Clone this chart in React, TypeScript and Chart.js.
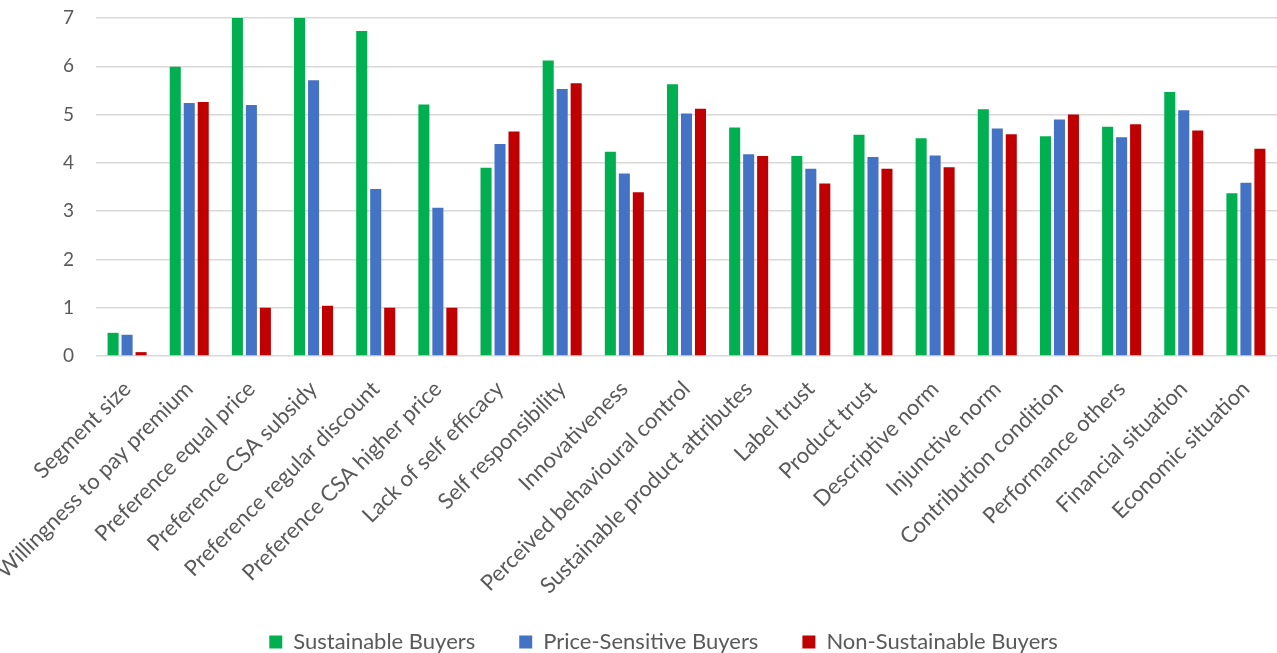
import React, { useEffect, useRef } from "react";
import { Chart, registerables } from "chart.js";

Chart.register(...registerables);

const categories = [
  "Segment size",
  "Willingness to pay premium",
  "Preference equal price",
  "Preference CSA subsidy",
  "Preference regular discount",
  "Preference CSA higher price",
  "Lack of self efficacy",
  "Self responsibility",
  "Innovativeness",
  "Perceived behavioural control",
  "Sustainable product attributes",
  "Label trust",
  "Product trust",
  "Descriptive norm",
  "Injunctive norm",
  "Contribution condition",
  "Performance others",
  "Financial situation",
  "Economic situation",
];

const sustainableBuyers = [
  0.48, 5.99, 7.0, 7.0, 6.73, 5.21, 3.9, 6.12, 4.23, 5.63, 4.73, 4.14, 4.58, 4.51, 5.11, 4.55, 4.75, 5.47, 3.37,
];
const priceSensitiveBuyers = [
  0.44, 5.24, 5.2, 5.71, 3.46, 3.07, 4.39, 5.53, 3.78, 5.02, 4.18, 3.88, 4.12, 4.15, 4.71, 4.9, 4.53, 5.09, 3.59,
];
const nonSustainableBuyers = [
  0.08, 5.26, 1.0, 1.04, 1.0, 1.0, 4.65, 5.65, 3.39, 5.12, 4.14, 3.57, 3.88, 3.91, 4.59, 5.0, 4.8, 4.67, 4.29,
];

const yTicks = [0, 1, 2, 3, 4, 5, 6, 7];

const FONT = "Lato, 'Open Sans', sans-serif";
const TEXT = "#595959";

// Lifts the bottom legend a little so it sits closer to the rotated axis labels.
const legendLift = {
  id: "legendLift",
  afterLayout(chart: any) {
    const lg = chart.legend;
    if (!lg) return;
    lg.top -= 13;
    lg.bottom -= 13;
  },
};

export default function App() {
  const canvasRef = useRef<HTMLCanvasElement | null>(null);

  useEffect(() => {
    if (!canvasRef.current) return;
    const common = { categoryPercentage: 0.675, barPercentage: 0.79, borderWidth: 0 };
    const chart = new Chart(canvasRef.current, {
      type: "bar",
      data: {
        labels: categories,
        datasets: [
          { label: "Sustainable Buyers", data: sustainableBuyers, backgroundColor: "#00B050", ...common },
          { label: "Price-Sensitive Buyers", data: priceSensitiveBuyers, backgroundColor: "#4472C4", ...common },
          { label: "Non-Sustainable Buyers", data: nonSustainableBuyers, backgroundColor: "#C00000", ...common },
        ],
      },
      plugins: [legendLift],
      options: {
        animation: false,
        responsive: true,
        maintainAspectRatio: false,
        layout: { padding: { top: 0, bottom: -23, left: 50, right: 0 } },
        plugins: {
          tooltip: { enabled: false },
          legend: {
            position: "bottom",
            labels: {
              boxWidth: 13,
              boxHeight: 13,
              padding: 44,
              color: TEXT,
              font: { family: FONT, size: 22 },
            },
          },
        },
        scales: {
          x: {
            grid: { display: false },
            border: { display: false },
            ticks: {
              autoSkip: false,
              minRotation: 45,
              maxRotation: 45,
              padding: 12,
              color: TEXT,
              font: { family: FONT, size: 22 },
            },
            afterFit: (scale: any) => {
              scale.height = 244;
            },
          },
          y: {
            min: 0,
            max: 7,
            afterBuildTicks: (scale: any) => {
              scale.ticks = yTicks.map((v) => ({ value: v }));
            },
            grid: { color: "#d9d9d9", lineWidth: 1.5, drawTicks: false },
            border: { display: false },
            ticks: {
              padding: 22,
              color: TEXT,
              font: { family: FONT, size: 19 },
            },
            afterFit: (scale: any) => {
              scale.width = 46;
              scale.paddingTop = 18;
              scale.paddingBottom = 0;
            },
          },
        },
      },
    });
    return () => chart.destroy();
  }, []);

  return (
    <div style={{ position: "absolute", left: 0, top: 0, width: 1277, height: 653, background: "#fff" }}>
      <canvas ref={canvasRef} />
    </div>
  );
}
